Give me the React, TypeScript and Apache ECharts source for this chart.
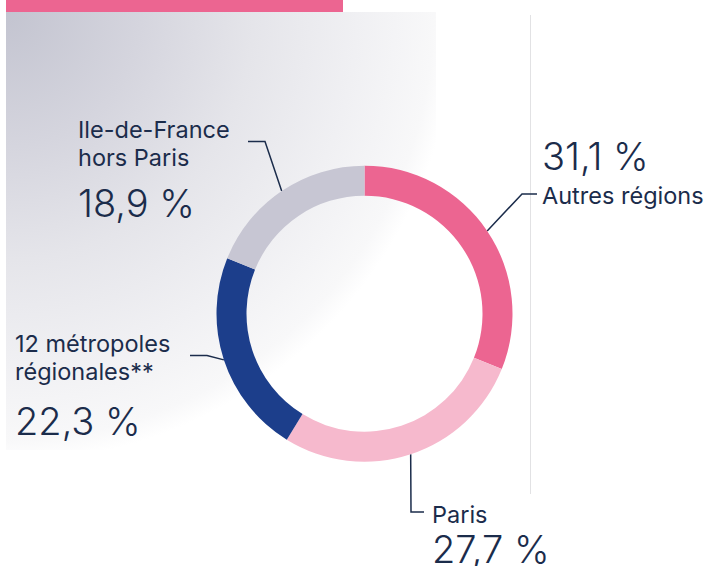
import React, { useEffect, useRef } from "react";
import * as echarts from "echarts";

const categories = ["Autres régions", "Paris", "12 métropoles\nrégionales**", "Ile-de-France\nhors Paris"];
const values = [31.1, 27.7, 22.3, 18.9];
const sliceColors = ["#ec6591", "#f6b9cd", "#1c3e8b", "#c7c6d3"];
// label placement: x/y of text block, leader elbow and end, value style key, value first?
const labelSpots = [
  { x: 542, y: 130, elbow: [522, 194], end: [537, 194], vKey: "vA", valueFirst: true },
  { x: 432, y: 500, elbow: [411, 512], end: [424, 512], vKey: "vP", valueFirst: false },
  { x: 15, y: 329, elbow: [207, 355.5], end: [190, 355.5], vKey: "vM", valueFirst: false },
  { x: 78, y: 115, elbow: [265, 141.5], end: [248, 141.5], vKey: "vI", valueFirst: false },
];

const TEXT = "#1b2c4b";
const FONT = "Inter, 'Noto Sans', sans-serif";

const fmt = (v: number) => v.toFixed(1).replace(".", ",") + " %";

export default function App() {
  const ref = useRef<HTMLDivElement>(null);
  useEffect(() => {
    if (!ref.current) return;
    const chart = echarts.init(ref.current, undefined, { renderer: "svg" });
    const data = categories.map((name, i) => {
      const spot = labelSpots[i];
      const nameLines = name.split("\n").map((l) => `{n|${l}}`).join("\n");
      const val = `{${spot.vKey}|${fmt(values[i])}}`;
      return {
        name,
        value: values[i],
        itemStyle: { color: sliceColors[i] },
        label: { formatter: spot.valueFirst ? `${val}\n${nameLines}` : `${nameLines}\n${val}` },
      };
    });
    const vStyle = (lh: number) => ({
      fontSize: 38,
      lineHeight: lh,
      fontWeight: 300,
      color: TEXT,
      fontFamily: FONT,
    });
    chart.setOption({
      animation: false,
      graphic: [
        {
          type: "rect",
          z: 0,
          silent: true,
          shape: { x: 6, y: 12, width: 430, height: 438 },
          style: {
            fill: new echarts.graphic.RadialGradient(
              6,
              12,
              450,
              [
                { offset: 0, color: "#c3c4d0" },
                { offset: 0.3, color: "#d5d5de" },
                { offset: 0.55, color: "#e5e5ea" },
                { offset: 0.78, color: "#f0f0f3" },
                { offset: 0.95, color: "#f8f8f9" },
                { offset: 1, color: "#ffffff" },
              ],
              true
            ),
          },
        },
        { type: "rect", z: 0, silent: true, shape: { x: 6, y: 0, width: 337, height: 12 }, style: { fill: "#ec6591" } },
        {
          type: "line",
          z: 0,
          silent: true,
          shape: { x1: 530.5, y1: 15, x2: 530.5, y2: 494 },
          style: { stroke: "#e2e2e4", lineWidth: 1 },
        },
      ],
      series: [
        {
          type: "pie",
          center: [364.5, 313.7],
          radius: [118, 148],
          startAngle: 90,
          clockwise: true,
          data,
          emphasis: { disabled: true },
          label: {
            show: true,
            position: "outside",
            color: TEXT,
            fontFamily: FONT,
            rich: {
              n: { fontSize: 23.5, lineHeight: 28, color: TEXT, fontFamily: FONT, fontWeight: 400 },
              vA: vStyle(51),
              vP: vStyle(42),
              vM: vStyle(71),
              vI: vStyle(64),
            },
          },
          labelLine: { show: true, lineStyle: { color: TEXT, width: 1.5 } },
          labelLayout: (params: any) => {
            const spot = labelSpots[params.dataIndex];
            const p0 = params.labelLinePoints ? params.labelLinePoints[0] : spot.elbow;
            return {
              x: spot.x,
              y: spot.y,
              align: "left",
              verticalAlign: "top",
              labelLinePoints: [p0, spot.elbow, spot.end],
            };
          },
        },
      ],
    });
    return () => chart.dispose();
  }, []);
  return <div ref={ref} style={{ position: "absolute", left: 0, top: 0, width: 710, height: 566 }} />;
}
